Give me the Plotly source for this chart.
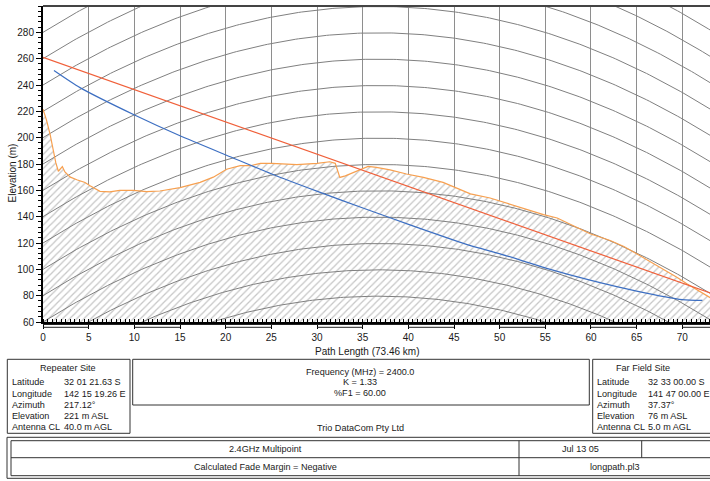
import numpy as np
import plotly.graph_objects as go

# ---------------- data ----------------
path_km = 73.46
k_factor = 1.33
x_visible_max = 73.03

terrain_km = [0, 0.4, 0.77, 1.13, 1.4, 1.68, 1.9, 2.12, 2.4, 2.6, 3.0, 3.7, 4.6, 5.15, 5.7,
              6.24, 7.3, 8.4, 9.9, 11.35, 12.8, 15.0, 17.2, 18.65, 20.1, 21.6, 22.7, 23.8,
              25.05, 27.8, 30.0, 31.4, 32.0, 32.5, 33.1, 33.6, 34.35, 35.1, 35.6, 36.5, 38.0,
              39.8, 41.65, 43.8, 46.0, 46.8, 48.95, 50.4, 52.2, 54.8, 56.3, 57.7, 59.9, 62.1,
              63.6, 65.0, 67.2, 69.4, 70.5, 73.05, 73.46]
terrain_m = [221.7, 213, 202.7, 190, 181, 174.5, 176, 178, 174, 172.4, 170, 168, 166, 163.5, 161,
             159.2, 158.8, 160, 160, 159, 159.5, 162, 166, 170, 176, 178.7, 178.7, 180.5,
             180.5, 179.5, 180.5, 181.7, 180.5, 169.8, 171, 172.4, 175, 177, 178.2, 177.4, 175.5,
             172.4, 169.8, 166, 159.8, 157.3, 154.2, 151, 147, 141.6, 139, 134.5, 127, 121.9,
             117.3, 111.8, 103, 94, 89, 78.5, 76]

los_km = [0, 73.46]
los_m = [261, 81]

fresnel_km = [1.2, 4.05, 10.08, 15.0, 20.5, 25.05, 30.05, 35.1, 40.1, 46.8, 50.05, 55.06,
              60.0, 65.0, 70.0, 72.2]
fresnel_m = [251, 238, 217, 201.4, 185.5, 172.4, 159.2, 146.4, 134, 118, 111.8, 100.9,
             91.6, 83.5, 77, 76.4]

curve_offsets = list(range(0, 320, 20))
x_ticks = list(range(0, 75, 5))
y_ticks = list(range(60, 300, 20))

repeater_labels = ["Latitude", "Longitude", "Azimuth", "Elevation", "Antenna CL"]
repeater_values = ["32 01 21.63 S", "142 15 19.26 E", "217.12°", "221 m ASL", "40.0 m AGL"]
far_labels = ["Latitude", "Longitude", "Azimuth", "Elevation", "Antenna CL"]
far_values = ["32 33 00.00 S", "141 47 00.00 E", "37.37°", "76 m ASL", "5.0 m AGL"]
link_params = ["Frequency (MHz) = 2400.0", "K = 1.33", "%F1 = 60.00"]

# ---------------- layout geometry (pixels) ----------------
W, H = 710, 481
PL, PR, PT, PB = 43, 710, 6, 322
FONT = "Liberation Sans, Arial, sans-serif"
TXT = "#1a1a1a"
FS = 9.1


def px(x):
    return (x - PL) / (PR - PL)


def py(y):
    return (PB - y) / (PB - PT)


fig = go.Figure()

# hatched terrain
fig.add_trace(go.Scatter(
    x=terrain_km, y=terrain_m, mode="lines", line=dict(width=0, color="#f7a050"),
    fill="tozeroy", fillcolor="white",
    fillpattern=dict(shape="/", size=5, solidity=0.25, fgcolor="#8e8e8e", bgcolor="white"),
    hoverinfo="skip", showlegend=False))

# earth curvature lines
xs = np.linspace(0, path_km, 240)
bulge = xs * (path_km - xs) / (12.74 * k_factor)
cx, cy = [], []
for c in curve_offsets:
    cx += list(xs) + [None]
    cy += list(c + bulge) + [None]
fig.add_trace(go.Scatter(x=cx, y=cy, mode="lines", line=dict(color="#808080", width=1),
                         hoverinfo="skip", showlegend=False))

# terrain line
fig.add_trace(go.Scatter(x=terrain_km, y=terrain_m, mode="lines",
                         line=dict(color="#f7a050", width=1.2), showlegend=False))
# line of sight
fig.add_trace(go.Scatter(x=los_km, y=los_m, mode="lines",
                         line=dict(color="#f0603a", width=1.2), showlegend=False))
# fresnel
fig.add_trace(go.Scatter(x=fresnel_km, y=fresnel_m, mode="lines",
                         line=dict(color="#3d6fc2", width=1.2, shape="spline", smoothing=0.6),
                         showlegend=False))

fig.update_xaxes(range=[0, x_visible_max], tickvals=x_ticks, ticks="outside", ticklen=5,
                 tickcolor="black", tickwidth=1, showgrid=True, gridcolor="#8e8e8e", gridwidth=1,
                 showline=True, linecolor="black", linewidth=2, zeroline=False,
                 ticklabelstandoff=0,
                 minor=dict(dtick=0.5, ticks="inside", ticklen=3, tickcolor="black", showgrid=False),
                 tickfont=dict(family=FONT, size=10, color=TXT))
fig.update_yaxes(range=[60, 300], tickvals=y_ticks, ticks="outside", ticklen=5,
                 tickcolor="black", showgrid=False, showline=True, linecolor="black",
                 linewidth=2, zeroline=False,
                 minor=dict(dtick=4, ticks="outside", ticklen=3, tickcolor="black", showgrid=False),
                 tickfont=dict(family=FONT, size=10, color=TXT))

shapes = []
ann = []


def line(x0, y0, x1, y1, color="#333", width=1):
    shapes.append(dict(type="line", xref="paper", yref="paper", x0=px(x0), y0=py(y0),
                       x1=px(x1), y1=py(y1), line=dict(color=color, width=width)))


def rect(x0, y0, x1, y1, color="#333", width=1):
    shapes.append(dict(type="rect", xref="paper", yref="paper", x0=px(x0), y0=py(y0),
                       x1=px(x1), y1=py(y1), line=dict(color=color, width=width)))


def text(x, y, s, anchor="center", size=FS):
    ann.append(dict(xref="paper", yref="paper", x=px(x), y=py(y), text=s, showarrow=False,
                    xanchor=anchor, yanchor="middle", borderpad=0,
                    font=dict(family=FONT, size=size, color=TXT)))


# top frame
line(PL, PT, 715, PT, color="#444", width=2)

# scale bar below x axis
line(PL, 324.5, 715, 324.5, color="#222", width=1)
for i, t in enumerate(x_ticks):
    if i % 2 == 0:
        t1 = min(t + 5, x_visible_max + 1)
        shapes.append(dict(type="line", xref="x", yref="paper", x0=t, x1=t1,
                           y0=py(327.3), y1=py(327.3), line=dict(color="#222", width=1)))

# axis titles
text(367, 351.7, "Path Length (73.46 km)", size=10)
ann.append(dict(xref="paper", yref="paper", x=px(12.5), y=py(173), text="Elevation (m)",
                showarrow=False, textangle=-90, xanchor="center", yanchor="middle",
                font=dict(family=FONT, size=10, color=TXT)))

# repeater box
rect(7.3, 359.3, 130, 433.3)
text(68, 368.3, "Repeater Site")
rows_y = [382.3, 393.7, 404.7, 415.5, 426.7]
for lab, val, yy in zip(repeater_labels, repeater_values, rows_y):
    text(10.5, yy, lab, anchor="left")
    text(62.7, yy, val, anchor="left")

# middle box
rect(132.7, 359.3, 589.3, 405)
for s, yy in zip(link_params, [371.7, 382.3, 393.3]):
    text(360, yy, s)
text(360, 428.3, "Trio DataCom Pty Ltd")

# far field box
rect(592.7, 359.3, 716, 433.3)
text(643.3, 368.3, "Far Field Site")
for lab, val, yy in zip(far_labels, far_values, rows_y):
    text(596, yy, lab, anchor="left")
    text(646.5, yy, val, anchor="left")

# bottom table
rect(7, 437.3, 716, 478.3)
rect(11, 440.7, 716, 475.7)
line(11, 457.7, 716, 457.7)
line(519, 440.7, 519, 475.7)
line(641.7, 440.7, 641.7, 457.7)
text(265, 449.3, "2.4GHz Multipoint")
text(580, 449.3, "Jul 13 05")
text(265, 467.3, "Calculated Fade Margin = Negative")
text(615, 467.3, "longpath.pl3")

fig.update_layout(width=W, height=H, margin=dict(l=PL, r=W - PR, t=PT, b=H - PB),
                  paper_bgcolor="white", plot_bgcolor="white", showlegend=False,
                  shapes=shapes, annotations=ann)

fig.write_html("out.html", config={"displayModeBar": False},
               post_script="document.body.style.margin='0';document.body.style.overflow='hidden';")
